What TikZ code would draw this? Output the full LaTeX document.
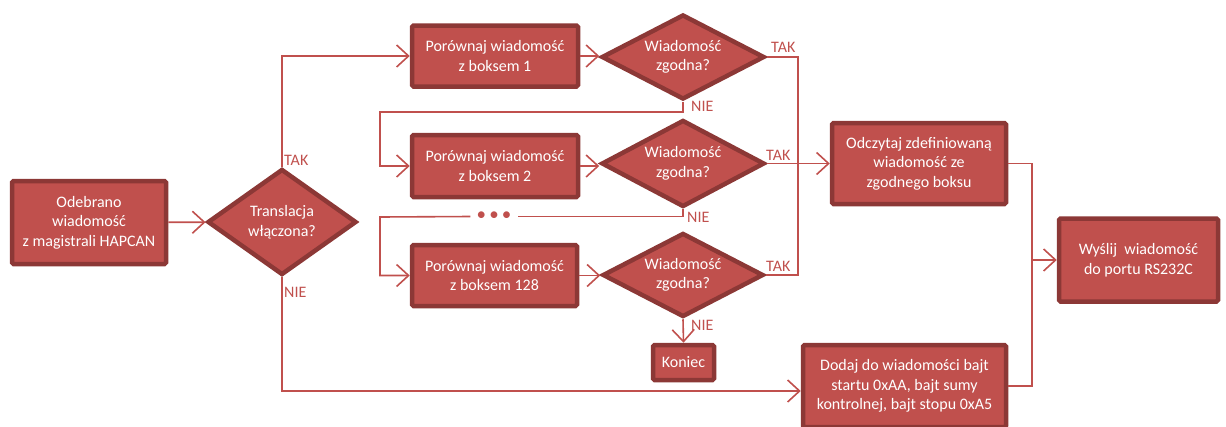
\documentclass[tikz,border=0pt]{standalone}
\usepackage{fontspec}
\setmainfont{Carlito}
\usetikzlibrary{arrows.meta,shapes.geometric}
\definecolor{rf}{HTML}{C0504D}
\definecolor{rd}{HTML}{8C3836}
\begin{document}
\begin{tikzpicture}[x=1pt,y=-1pt,
  box/.style={draw=rd, line width=4.5pt, fill=rf, rounded corners=1.5pt, text=white, align=center, inner sep=0pt, font=\fontsize{16}{19.5}\selectfont},
  dia/.style={diamond, draw=rd, line width=4.5pt, fill=rf, text=white, align=center, inner sep=0pt, font=\fontsize{16}{19.5}\selectfont},
  conn/.style={draw=rf, line width=1.6pt},
  arr/.style={conn, -{Straight Barb[length=12pt,width=22pt,line width=1.6pt]}},
  lab/.style={text=rf, font=\fontsize{16}{16}\selectfont, inner sep=0pt, anchor=west}]
\useasboundingbox (0,0) rectangle (1226,426);
% nodes
\node[box, minimum width=154pt, minimum height=83pt] (A) at (89,222.5) {Odebrano\\wiadomość\\z magistrali HAPCAN};
\node[dia, shape aspect=1.4, minimum width=149pt, minimum height=106pt] (D0) at (282,222) {Translacja\\włączona?};
\node[box, minimum width=166pt, minimum height=61pt] (P1) at (495,56) {Porównaj wiadomość\\z boksem 1};
\node[dia, shape aspect=1.92, minimum width=163pt, minimum height=85pt] (Q1) at (683,57) {Wiadomość\\zgodna?};
\node[box, minimum width=166pt, minimum height=62pt] (P2) at (495,166) {Porównaj wiadomość\\z boksem 2};
\node[dia, shape aspect=1.92, minimum width=163pt, minimum height=87pt] (Q2) at (683,163.5) {Wiadomość\\zgodna?};
\node[box, minimum width=165pt, minimum height=61pt] (P3) at (494.5,275.5) {Porównaj wiadomość\\z boksem 128};
\node[dia, shape aspect=1.92, minimum width=161pt, minimum height=84pt] (Q3) at (683,275) {Wiadomość\\zgodna?};
\node[box, minimum width=61pt, minimum height=35pt] (K) at (683.5,362.5) {Koniec};
\node[box, minimum width=174pt, minimum height=81pt] (O) at (919,163.5) {Odczytaj zdefiniowaną\\wiadomość ze\\zgodnego boksu};
\node[box, minimum width=159pt, minimum height=83pt] (W) at (1138.5,260) {Wyślij~ wiadomość\\do portu RS232C};
\node[box, minimum width=203pt, minimum height=82pt] (Dd) at (904.5,386) {Dodaj do wiadomości bajt\\startu 0xAA, bajt sumy\\kontrolnej, bajt stopu 0xA5};
\node[minimum width=47pt, inner sep=0pt, text=rf, font=\fontsize{19}{19}\selectfont] (dots) at (494,216.5) {\textbullet\,\textbullet\,\textbullet};
% helper coordinates
\coordinate (J) at (798,163.5);
\coordinate (L1) at (380,112);
\coordinate (L2) at (380,217);
\coordinate (R) at (1032,260);
\coordinate (N0) at (282,391);
% connectors
\draw[arr] (A) -- (D0);
\draw[arr] (D0.north) |- (P1.west);
\draw[arr] (D0.south) -- (N0) -- (N0 -| Dd.west);
\draw[arr] (P1.east) -- (Q1.west |- P1.east);
\draw[arr] (P2.east) -- (Q2.west |- P2.east);
\draw[arr] (P3.east) -- (Q3.west |- P3.east);
\draw[conn] (Q1.east) -| (J);
\draw[conn] (Q3.east) -| (J);
\draw[arr] (Q2.east) -- (O.west);
\draw[arr] (Q1.south) |- (L1) |- (P2.west);
\draw[conn] (Q2.south) |- (dots.east);
\draw[arr] (dots.west) -- (L2) |- (P3.west);
\draw[arr] (Q3.south) -- (K.north);
\draw[conn] (O.east) -| (R);
\draw[conn] (Dd.east) -| (R);
\draw[arr] (R) -- (W.west);
% labels
\node[lab] (t0) at (284,160) {TAK};
\node[lab] (n0) at (284,292) {NIE};
\node[lab] (t1) at (771,47) {TAK};
\node[lab] (n1) at (691,106) {NIE};
\node[lab] (t2) at (766,155) {TAK};
\node[lab] (n2) at (687,217) {NIE};
\node[lab] (t3) at (766,266) {TAK};
\node[lab] (n3) at (691,325) {NIE};
\end{tikzpicture}
\end{document}
